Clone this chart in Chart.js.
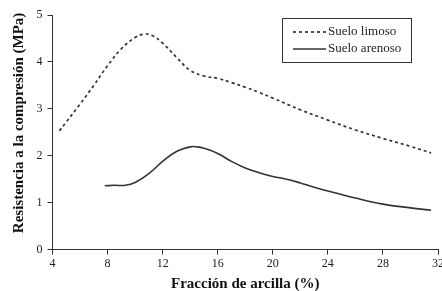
<!DOCTYPE html>
<html>
<head>
<meta charset="utf-8">
<script src="https://cdn.jsdelivr.net/npm/chart.js@4"></script>
<style>
  html, body { margin: 0; padding: 0; background: #fff; }
  #wrap { width: 442px; height: 291px; }
</style>
</head>
<body>
<div id="wrap"><canvas id="chart" width="442" height="291"></canvas></div>
<script>
// fracción de arcilla (%) y resistencia (MPa)
var limosoX = [4.5, 5, 6, 7, 8, 9, 10, 10.6, 11.2, 12, 13, 14, 15, 16, 17, 18, 19, 20, 22, 24, 26, 28, 30, 31.5];
var limosoY = [2.53, 2.72, 3.1, 3.5, 3.92, 4.28, 4.52, 4.59, 4.57, 4.4, 4.1, 3.82, 3.7, 3.65, 3.56, 3.46, 3.35, 3.23, 2.98, 2.76, 2.55, 2.37, 2.2, 2.06];

var arenosoX = [7.8, 8.5, 9.3, 10, 11, 12, 13, 14, 14.5, 15, 16, 17, 18, 19, 20, 21, 22, 23, 24, 26, 28, 30, 31.5];
var arenosoY = [1.36, 1.37, 1.37, 1.43, 1.62, 1.88, 2.09, 2.19, 2.19, 2.16, 2.05, 1.88, 1.74, 1.64, 1.56, 1.5, 1.42, 1.33, 1.25, 1.1, 0.97, 0.89, 0.84];

var xTicks = [4, 8, 12, 16, 20, 24, 28, 32];
var yTicks = [0, 1, 2, 3, 4, 5];

var ink = '#333';
var serif = "'Liberation Serif', 'Times New Roman', serif";

function toPoints(xs, ys) {
	return xs.map(function(x, i) { return { x: x, y: ys[i] }; });
}

// leyenda con recuadro, dibujada dentro del área del gráfico
var boxLegend = {
	id: 'boxLegend',
	afterDraw: function(chart) {
		var ctx = chart.ctx;
		var area = chart.chartArea;
		var w = 129, h = 44;
		var x0 = area.right - 27 - w, y0 = area.top + 3;
		ctx.save();
		ctx.strokeStyle = ink;
		ctx.lineWidth = 1;
		ctx.strokeRect(x0 + 0.5, y0 + 0.5, w, h);
		ctx.font = '13px ' + serif;
		ctx.fillStyle = '#222';
		ctx.textBaseline = 'middle';
		chart.data.datasets.forEach(function(ds, i) {
			var ly = y0 + 14 + i * 17;
			ctx.beginPath();
			ctx.setLineDash(ds.borderDash || []);
			ctx.lineWidth = ds.borderWidth;
			ctx.strokeStyle = ds.borderColor;
			ctx.moveTo(x0 + 11, ly);
			ctx.lineTo(x0 + 44, ly);
			ctx.stroke();
			ctx.setLineDash([]);
			ctx.fillText(ds.label, x0 + 46, ly);
		});
		ctx.restore();
	}
};

var ctx = document.getElementById('chart').getContext('2d');
new Chart(ctx, {
	type: 'line',
	data: {
		datasets: [{
			label: 'Suelo limoso',
			data: toPoints(limosoX, limosoY),
			borderColor: ink,
			borderWidth: 1.7,
			borderDash: [3, 3],
			pointRadius: 0,
			tension: 0.4,
			fill: false
		}, {
			label: 'Suelo arenoso',
			data: toPoints(arenosoX, arenosoY),
			borderColor: ink,
			borderWidth: 1.6,
			pointRadius: 0,
			tension: 0.4,
			fill: false
		}]
	},
	options: {
		responsive: false,
		animation: false,
		layout: { padding: { top: 15, right: 4, left: 10, bottom: 0 } },
		plugins: {
			legend: { display: false },
			tooltip: { enabled: false }
		},
		scales: {
			x: {
				type: 'linear',
				min: 4,
				max: 32,
				afterBuildTicks: function(axis) {
					axis.ticks = xTicks.map(function(v) { return { value: v }; });
				},
				afterFit: function(axis) {
					// el "32" puede salirse por la derecha, como en el original
					axis.paddingRight = 0;
				},
				grid: { drawOnChartArea: false, drawTicks: true, tickLength: 5, color: ink },
				border: { display: true, color: ink, width: 1 },
				ticks: { color: '#222', font: { family: serif, size: 12 }, padding: 2.5, maxRotation: 0 },
				title: { display: true, text: 'Fracción de arcilla (%)', color: '#111', font: { family: serif, size: 15, weight: 'bold' }, padding: { top: 1, bottom: -2 } }
			},
			y: {
				type: 'linear',
				min: 0,
				max: 5,
				afterBuildTicks: function(axis) {
					axis.ticks = yTicks.map(function(v) { return { value: v }; });
				},
				grid: { drawOnChartArea: false, drawTicks: true, tickLength: 5, color: ink },
				border: { display: true, color: ink, width: 1 },
				ticks: { color: '#222', font: { family: serif, size: 12 }, padding: 5 },
				title: { display: true, text: '     Resistencia a la compresión (MPa)', color: '#111', font: { family: serif, size: 15, weight: 'bold' }, padding: { top: 0, bottom: 3.5 } }
			}
		}
	},
	plugins: [boxLegend]
});
</script>
</body>
</html>
